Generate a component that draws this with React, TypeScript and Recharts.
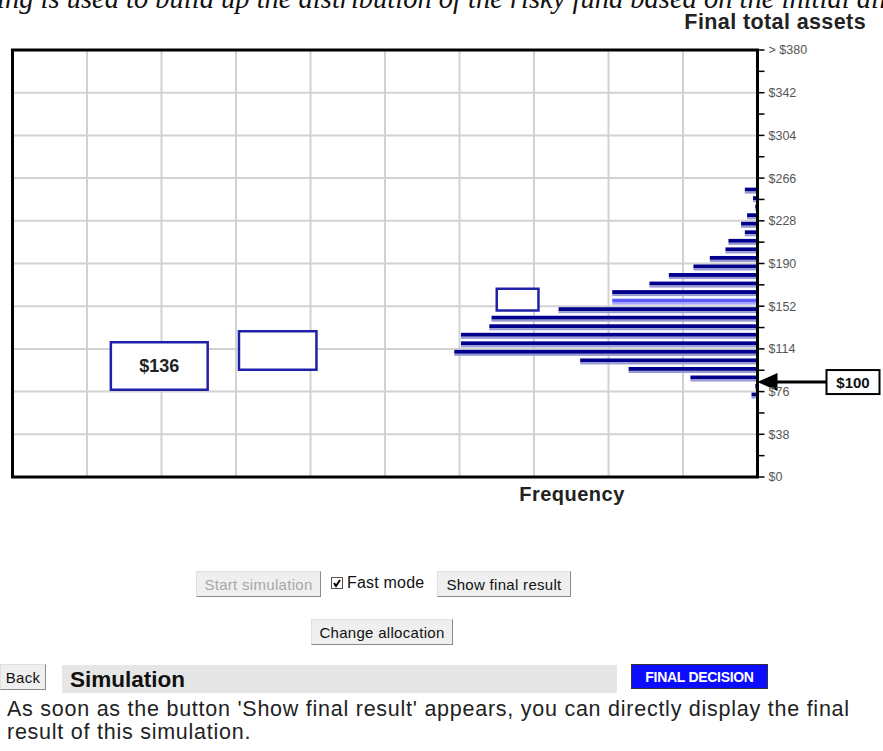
import React from 'react';
import { ComposedChart, Bar, XAxis, YAxis, CartesianGrid, ReferenceArea, ReferenceDot } from 'recharts';

// Histogram of final total assets (bin centres, $) and their frequencies
const binCenters = [72.2, 79.8, 87.4, 95, 102.6, 110.2, 117.8, 125.4, 133, 140.6, 148.2, 155.8, 163.4, 171, 178.6, 186.2, 193.8, 201.4, 209, 216.6, 224.2, 231.8, 239.4, 247, 254.6];
const frequencies = [0.8, 0.3, 9, 17.3, 23.8, 40.7, 39.8, 39.8, 36, 35.7, 26.7, 19.5, 19.5, 14.5, 11.9, 8.6, 6.4, 4.3, 3.9, 1.7, 2.2, 1.4, 0.3, 0.6, 1.7];
const highlightedBin = 155.8;

// Axis ticks
const yTicks = [0, 19, 38, 57, 76, 95, 114, 133, 152, 171, 190, 209, 228, 247, 266, 285, 304, 323, 342, 361, 380];
const yLabelTicks = [0, 38, 76, 114, 152, 190, 228, 266, 304, 342, 380];
const yGridValues = [38, 76, 114, 152, 190, 228, 266, 304, 342];
const xGridValues = [10, 20, 30, 40, 50, 60, 70, 80, 90];

// Annotation boxes (frequency range x1-x2, asset range y1-y2)
const boxX1 = [73.8, 59.2, 29.4];
const boxX2 = [86.8, 69.6, 35];
const boxY1 = [77.6, 95.4, 148.2];
const boxY2 = [120, 129.7, 167.5];
const boxLabels = ['$136', '', ''];

// Starting value marker
const startMarkerValue = 84.5;
const startMarkerLabel = '$100';

const data = binCenters.map((mid, i) => ({ mid, freq: frequencies[i] }));

const SANS = '"Liberation Sans", Arial, sans-serif';

const BinBar = (props: any) => {
  const { x, y, width, height, payload } = props;
  const left = Math.min(x, x + width);
  const w = Math.abs(width);
  const top = Math.min(y, y + height);
  const h = Math.abs(height);
  const hl = payload && payload.mid === highlightedBin;
  const dark = h * 0.65;
  return (
    <g>
      <rect x={left} y={top} width={w} height={dark} fill={hl ? '#5a5aff' : '#00008c'} />
      <rect x={left} y={top + dark} width={w} height={h - dark} fill={hl ? '#a9a9ff' : '#9a9ad2'} />
    </g>
  );
};

const StartArrow = (props: any) => {
  const { cx, cy } = props;
  return (
    <g>
      <line x1={cx + 16} y1={cy} x2={cx + 69} y2={cy} stroke="#000" strokeWidth={3} />
      <polygon points={`${cx},${cy} ${cx + 20},${cy - 9} ${cx + 20},${cy + 9}`} fill="#000" />
      <rect x={cx + 69} y={cy - 12} width={53} height={24} fill="#fff" stroke="#000" strokeWidth={2} />
      <text x={cx + 95.5} y={cy + 5.5} textAnchor="middle" fontFamily={SANS} fontWeight="bold" fontSize={15} fill="#111">
        {startMarkerLabel}
      </text>
    </g>
  );
};

const fmtY = (v: number) => {
  if (!yLabelTicks.includes(v)) return '';
  return v === 380 ? '> $380' : `$${v}`;
};

const btnBase: React.CSSProperties = {
  position: 'absolute',
  boxSizing: 'border-box',
  background: '#efefef',
  border: '1px solid #e0e0e0',
  borderRightColor: '#8a8a8a',
  borderBottomColor: '#8a8a8a',
  fontFamily: SANS,
  fontSize: 15,
  letterSpacing: 0.3,
  display: 'flex',
  alignItems: 'center',
  justifyContent: 'center',
  color: '#111',
  whiteSpace: 'nowrap',
};

export default function App() {
  return (
    <div style={{ position: 'fixed', left: 0, top: 0, width: 883, height: 751, background: '#fff', overflow: 'hidden' }}>
      <div
        style={{
          position: 'absolute',
          left: -3,
          top: -15,
          fontFamily: '"Liberation Serif", "Times New Roman", serif',
          fontStyle: 'italic',
          fontSize: 28.5,
          lineHeight: '28.5px',
          whiteSpace: 'nowrap',
          color: '#111',
        }}
      >
        ing is used to build up the distribution of the risky fund based on the initial allocation
      </div>
      <div
        style={{
          position: 'absolute',
          left: 630,
          top: 11,
          width: 236,
          textAlign: 'right',
          fontFamily: SANS,
          fontWeight: 'bold',
          fontSize: 21.5,
          letterSpacing: 0.4,
          lineHeight: '22px',
          color: '#222',
          whiteSpace: 'nowrap',
        }}
      >
        Final total assets
      </div>

      <div style={{ position: 'absolute', left: 0, top: 0 }}>
        <ComposedChart
          width={883}
          height={520}
          data={data}
          layout="vertical"
          margin={{ top: 50, right: 65.5, bottom: 43, left: 12.5 }}
        >
          <CartesianGrid
            stroke="#d2d2d2"
            strokeWidth={2}
            verticalValues={xGridValues}
            horizontalValues={yGridValues}
          />
          <XAxis type="number" domain={[0, 100]} reversed hide allowDataOverflow />
          <YAxis
            type="number"
            dataKey="mid"
            orientation="right"
            domain={[0, 380]}
            reversed
            ticks={yTicks}
            interval={0}
            width={60}
            allowDataOverflow
            axisLine={{ stroke: '#000', strokeWidth: 3 }}
            tickLine={{ stroke: '#000', strokeWidth: 1.5 }}
            tickSize={7}
            tickMargin={4}
            tick={{ fill: '#555', fontSize: 12.5, fontFamily: SANS }}
            tickFormatter={fmtY}
          />
          {boxX1.map((x1, i) => (
            <ReferenceArea
              key={i}
              x1={x1}
              x2={boxX2[i]}
              y1={boxY1[i]}
              y2={boxY2[i]}
              fill="#fff"
              fillOpacity={1}
              stroke="#2020a8"
              strokeWidth={2.5}
              label={boxLabels[i] ? { value: boxLabels[i], position: 'center', fontFamily: SANS, fontWeight: 'bold', fontSize: 18, fill: '#222' } : undefined}
            />
          ))}
          <Bar dataKey="freq" barSize={6} shape={BinBar} isAnimationActive={false} />
          <ReferenceArea x1={0} x2={100} y1={0} y2={380} fill="none" stroke="#000" strokeWidth={3} />
          <ReferenceDot x={0} y={startMarkerValue} r={0} ifOverflow="visible" shape={StartArrow} />
        </ComposedChart>
      </div>

      <div
        style={{
          position: 'absolute',
          left: 472,
          top: 483,
          width: 200,
          textAlign: 'center',
          fontFamily: SANS,
          fontWeight: 'bold',
          fontSize: 20,
          letterSpacing: 0.5,
          color: '#222',
        }}
      >
        Frequency
      </div>

      {/* Controls */}
      <div style={{ ...btnBase, left: 196, top: 571, width: 125, height: 26, color: '#a8a8a8' }}>Start simulation</div>
      <div
        style={{
          position: 'absolute',
          left: 331,
          top: 577,
          width: 12,
          height: 12,
          boxSizing: 'border-box',
          border: '1px solid #555',
          background: '#fff',
        }}
      >
        <svg width={10} height={10} style={{ position: 'absolute', left: 0, top: 0 }}>
          <polyline points="2,5 4,8 8,2" fill="none" stroke="#000" strokeWidth={2} />
        </svg>
      </div>
      <div style={{ position: 'absolute', left: 347, top: 574, fontFamily: SANS, fontSize: 16, letterSpacing: 0.2, color: '#111', whiteSpace: 'nowrap' }}>Fast mode</div>
      <div style={{ ...btnBase, left: 437, top: 571, width: 134, height: 26 }}>Show final result</div>
      <div style={{ ...btnBase, left: 311, top: 619, width: 142, height: 26 }}>Change allocation</div>

      <div style={{ ...btnBase, left: 0, top: 664, width: 46, height: 26 }}>Back</div>
      <div
        style={{
          position: 'absolute',
          left: 62,
          top: 665,
          width: 555,
          height: 28,
          background: '#e6e6e6',
          fontFamily: SANS,
          fontWeight: 'bold',
          fontSize: 22.5,
          lineHeight: '30px',
          paddingLeft: 8,
          boxSizing: 'border-box',
          color: '#111',
        }}
      >
        Simulation
      </div>
      <div
        style={{
          position: 'absolute',
          left: 631,
          top: 664,
          width: 137,
          height: 25,
          boxSizing: 'border-box',
          background: '#0c0cff',
          border: '1px solid #333',
          color: '#fff',
          fontFamily: SANS,
          fontWeight: 'bold',
          fontSize: 14,
          letterSpacing: -0.3,
          display: 'flex',
          alignItems: 'center',
          justifyContent: 'center',
          whiteSpace: 'nowrap',
        }}
      >
        FINAL DECISION
      </div>
      <div
        style={{
          position: 'absolute',
          left: 7,
          top: 698,
          fontFamily: SANS,
          fontSize: 21.5,
          letterSpacing: 0.75,
          lineHeight: '23px',
          color: '#222',
          whiteSpace: 'nowrap',
        }}
      >
        As soon as the button 'Show final result' appears, you can directly display the final
        <br />
        result of this simulation.
      </div>
    </div>
  );
}
